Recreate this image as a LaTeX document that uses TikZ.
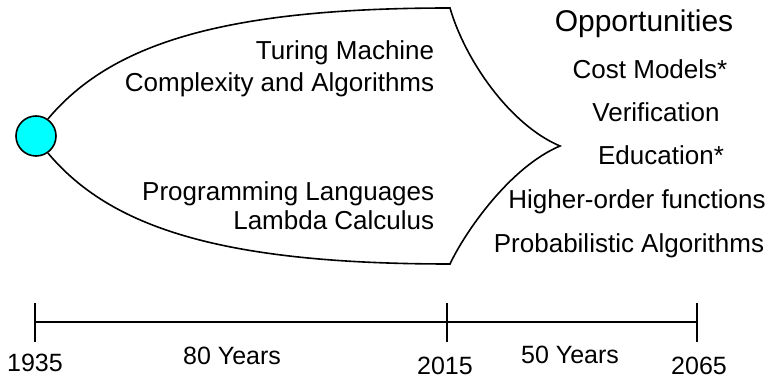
\documentclass[tikz,border=0pt]{standalone}
\usepackage{fontspec}
\setmainfont{Liberation Sans}
\usepackage{tikz}

\definecolor{aqua}{RGB}{0,255,255}

\tikzset{
	head/.style={font=\fontsize{30}{34}\selectfont, inner sep=0pt},
	txt/.style={font=\fontsize{26}{30}\selectfont, inner sep=0pt},
	yr/.style={font=\fontsize{25}{30}\selectfont, inner sep=0pt},
}

\begin{document}
\begin{tikzpicture}[x=1pt, y=-1pt, line width=1.6pt]
	\useasboundingbox (0, 0) rectangle (768, 379);
	\node[circle, draw, fill=aqua, minimum size=40pt, inner sep=0pt] at (36, 136) (start) {};
	\coordinate (top) at (450, 8);
	\coordinate (tip) at (560, 146);
	\coordinate (bot) at (450, 264);
	\draw (start.55) .. controls (110, 45) and (220, 8) .. (top)
		.. controls (465, 60) and (510, 125) .. (tip)
		.. controls (510, 167) and (465, 232) .. (bot)
		.. controls (220, 264) and (110, 227) .. (start.-55);

	\node[txt, anchor=base east] at (435, 60) (turing) {Turing Machine};
	\node[txt, anchor=base east] at (435, 92) (complexity) {Complexity and Algorithms};
	\node[txt, anchor=base east] at (435, 201) (programming) {Programming Languages};
	\node[txt, anchor=base east] at (435, 230) (lambda) {Lambda Calculus};

	\node[head, anchor=base] at (644, 32) (opp) {Opportunities};
	\node[txt, anchor=base] at (650, 79) (cost) {Cost Models*};
	\node[txt, anchor=base] at (656, 122) (verif) {Verification};
	\node[txt, anchor=base] at (661, 165) (edu) {Education*};
	\node[txt, anchor=base] at (637, 209) (higher) {Higher-order functions};
	\node[txt, anchor=base] at (629, 253) (prob) {Probabilistic Algorithms};

	\coordinate (y1935) at (35, 322);
	\coordinate (y2015) at (447, 322);
	\coordinate (y2065) at (697, 322);
	\draw (y1935) -- (y2015) -- (y2065);
	\draw[line width=2.2pt] ([xshift=-54pt]y2015) -- (y2015);
	\foreach \t in {y1935, y2015, y2065}
		\draw (\t) ++(0, -19) -- ++(0, 39);

	\node[yr, anchor=base] at (35, 371) (l1935) {1935};
	\node[yr, anchor=base] at (232, 364) (span1) {80 Years};
	\node[yr, anchor=base] at (445, 374) (l2015) {2015};
	\node[yr, anchor=base] at (570, 363) (span2) {50 Years};
	\node[yr, anchor=base] at (699, 374) (l2065) {2065};
\end{tikzpicture}
\end{document}
